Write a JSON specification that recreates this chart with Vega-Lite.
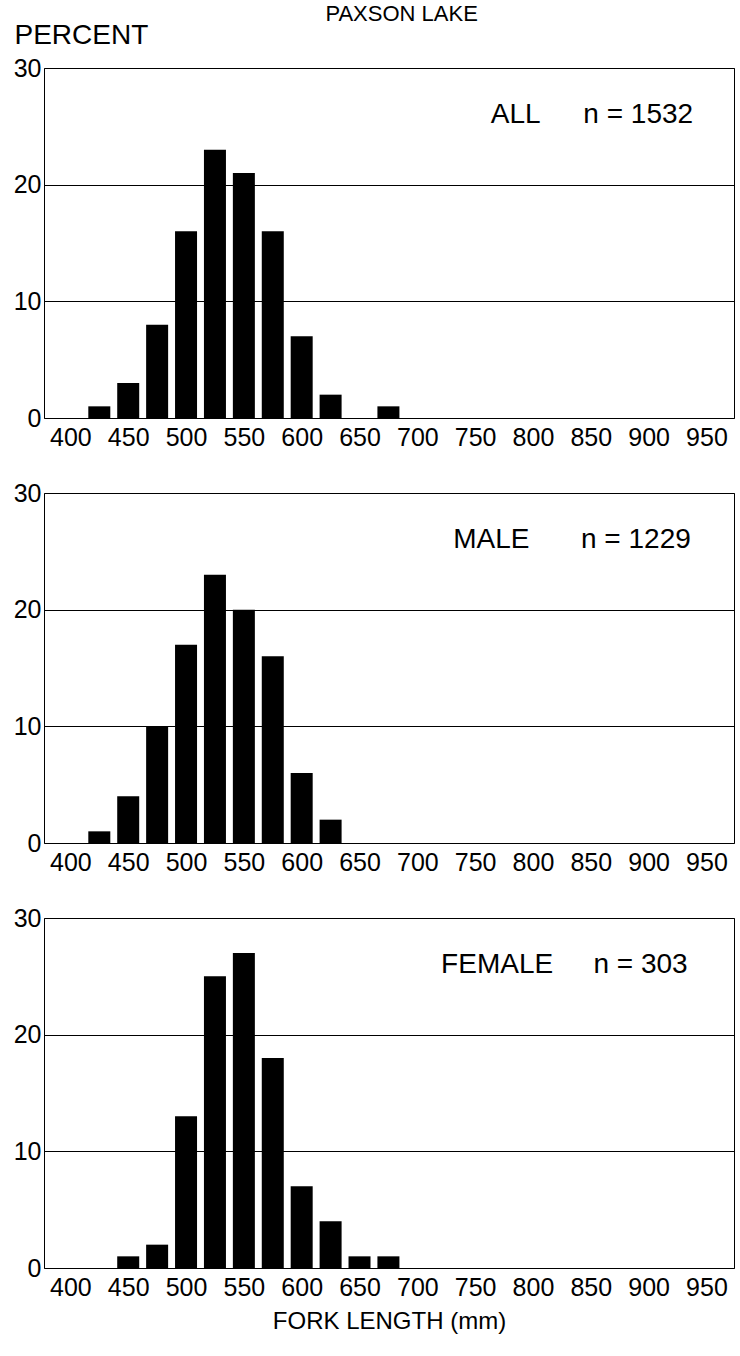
{
  "$schema": "https://vega.github.io/schema/vega-lite/v6.json",
  "padding": {"left": 12, "top": 2, "right": 5, "bottom": 5},
  "background": "white",
  "title": {"text": "PAXSON LAKE", "fontSize": 22, "font": "Liberation Sans", "fontWeight": "normal", "color": "black", "anchor": "middle", "dx": 28, "offset": -5},
  "datasets": {
    "bars": [
      {"sample": "ALL", "fork_length": 425, "percent": 1},
      {"sample": "ALL", "fork_length": 450, "percent": 3},
      {"sample": "ALL", "fork_length": 475, "percent": 8},
      {"sample": "ALL", "fork_length": 500, "percent": 16},
      {"sample": "ALL", "fork_length": 525, "percent": 23},
      {"sample": "ALL", "fork_length": 550, "percent": 21},
      {"sample": "ALL", "fork_length": 575, "percent": 16},
      {"sample": "ALL", "fork_length": 600, "percent": 7},
      {"sample": "ALL", "fork_length": 625, "percent": 2},
      {"sample": "ALL", "fork_length": 675, "percent": 1},
      {"sample": "MALE", "fork_length": 425, "percent": 1},
      {"sample": "MALE", "fork_length": 450, "percent": 4},
      {"sample": "MALE", "fork_length": 475, "percent": 10},
      {"sample": "MALE", "fork_length": 500, "percent": 17},
      {"sample": "MALE", "fork_length": 525, "percent": 23},
      {"sample": "MALE", "fork_length": 550, "percent": 20},
      {"sample": "MALE", "fork_length": 575, "percent": 16},
      {"sample": "MALE", "fork_length": 600, "percent": 6},
      {"sample": "MALE", "fork_length": 625, "percent": 2},
      {"sample": "FEMALE", "fork_length": 450, "percent": 1},
      {"sample": "FEMALE", "fork_length": 475, "percent": 2},
      {"sample": "FEMALE", "fork_length": 500, "percent": 13},
      {"sample": "FEMALE", "fork_length": 525, "percent": 25},
      {"sample": "FEMALE", "fork_length": 550, "percent": 27},
      {"sample": "FEMALE", "fork_length": 575, "percent": 18},
      {"sample": "FEMALE", "fork_length": 600, "percent": 7},
      {"sample": "FEMALE", "fork_length": 625, "percent": 4},
      {"sample": "FEMALE", "fork_length": 650, "percent": 1},
      {"sample": "FEMALE", "fork_length": 675, "percent": 1}
    ],
    "labels": [
      {"sample": "ALL", "fork_length": 785, "percent": 26, "text": "ALL"},
      {"sample": "ALL", "fork_length": 891, "percent": 26, "text": "n = 1532"},
      {"sample": "MALE", "fork_length": 764, "percent": 26, "text": "MALE"},
      {"sample": "MALE", "fork_length": 889, "percent": 26, "text": "n = 1229"},
      {"sample": "FEMALE", "fork_length": 769, "percent": 26, "text": "FEMALE"},
      {"sample": "FEMALE", "fork_length": 893, "percent": 26, "text": "n = 303"}
    ]
  },
  "config": {
    "view": {"stroke": "black", "strokeWidth": 1},
    "font": "Liberation Sans",
    "axis": {
      "labelFont": "Liberation Sans",
      "labelFontSize": 25,
      "labelColor": "black",
      "ticks": false,
      "domain": false,
      "gridColor": "black",
      "gridOpacity": 1,
      "gridWidth": 1,
      "titleFont": "Liberation Sans",
      "titleFontWeight": "normal",
      "titleColor": "black"
    }
  },
  "spacing": 29,
  "vconcat": [
    {
      "width": 690, "height": 350,
      "layer": [
        {
          "data": {"name": "bars"},
          "transform": [{"filter": "datum.sample === 'ALL'"}],
          "mark": {"type": "bar", "color": "black", "size": 22},
          "encoding": {
            "x": {"field": "fork_length", "type": "quantitative", "scale": {"domain": [381.5, 969.5], "nice": false, "zero": false},
                  "axis": {"values": [400, 450, 500, 550, 600, 650, 700, 750, 800, 850, 900, 950], "format": "d", "grid": false, "labelPadding": 7, "title": null}},
            "y": {"field": "percent", "type": "quantitative", "scale": {"domain": [0, 30], "nice": false},
                  "axis": {"values": [0, 10, 20, 30], "labelPadding": 3, "title": "PERCENT", "titleAngle": 0, "titleAlign": "left", "titleBaseline": "middle", "titleX": -30, "titleY": -33, "titleFontSize": 28}}
          }
        },
        {
          "data": {"name": "labels"},
          "transform": [{"filter": "datum.sample === 'ALL'"}],
          "mark": {"type": "text", "fontSize": 28, "font": "Liberation Sans", "color": "black", "align": "center", "baseline": "middle"},
          "encoding": {
            "x": {"field": "fork_length", "type": "quantitative"},
            "y": {"field": "percent", "type": "quantitative"},
            "text": {"field": "text"}
          }
        }
      ]
    },
    {
      "width": 690, "height": 350,
      "layer": [
        {
          "data": {"name": "bars"},
          "transform": [{"filter": "datum.sample === 'MALE'"}],
          "mark": {"type": "bar", "color": "black", "size": 22},
          "encoding": {
            "x": {"field": "fork_length", "type": "quantitative", "scale": {"domain": [381.5, 969.5], "nice": false, "zero": false},
                  "axis": {"values": [400, 450, 500, 550, 600, 650, 700, 750, 800, 850, 900, 950], "format": "d", "grid": false, "labelPadding": 7, "title": null}},
            "y": {"field": "percent", "type": "quantitative", "scale": {"domain": [0, 30], "nice": false},
                  "axis": {"values": [0, 10, 20, 30], "labelPadding": 3, "title": null}}
          }
        },
        {
          "data": {"name": "labels"},
          "transform": [{"filter": "datum.sample === 'MALE'"}],
          "mark": {"type": "text", "fontSize": 28, "font": "Liberation Sans", "color": "black", "align": "center", "baseline": "middle"},
          "encoding": {
            "x": {"field": "fork_length", "type": "quantitative"},
            "y": {"field": "percent", "type": "quantitative"},
            "text": {"field": "text"}
          }
        }
      ]
    },
    {
      "width": 690, "height": 350,
      "layer": [
        {
          "data": {"name": "bars"},
          "transform": [{"filter": "datum.sample === 'FEMALE'"}],
          "mark": {"type": "bar", "color": "black", "size": 22},
          "encoding": {
            "x": {"field": "fork_length", "type": "quantitative", "scale": {"domain": [381.5, 969.5], "nice": false, "zero": false},
                  "axis": {"values": [400, 450, 500, 550, 600, 650, 700, 750, 800, 850, 900, 950], "format": "d", "grid": false, "labelPadding": 7, "title": "FORK LENGTH (mm)", "titleFontSize": 24, "titlePadding": 9}},
            "y": {"field": "percent", "type": "quantitative", "scale": {"domain": [0, 30], "nice": false},
                  "axis": {"values": [0, 10, 20, 30], "labelPadding": 3, "title": null}}
          }
        },
        {
          "data": {"name": "labels"},
          "transform": [{"filter": "datum.sample === 'FEMALE'"}],
          "mark": {"type": "text", "fontSize": 28, "font": "Liberation Sans", "color": "black", "align": "center", "baseline": "middle"},
          "encoding": {
            "x": {"field": "fork_length", "type": "quantitative"},
            "y": {"field": "percent", "type": "quantitative"},
            "text": {"field": "text"}
          }
        }
      ]
    }
  ]
}
